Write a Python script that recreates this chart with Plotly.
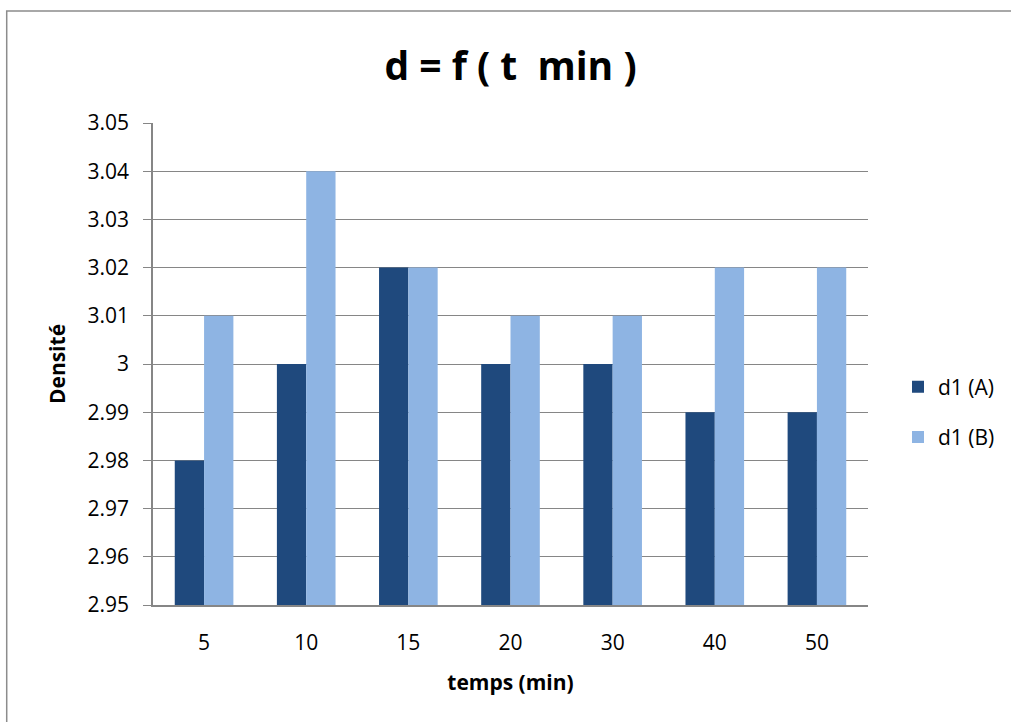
import plotly.graph_objects as go

categories = ["5", "10", "15", "20", "30", "40", "50"]
d1_A = [2.98, 3.00, 3.02, 3.00, 3.00, 2.99, 2.99]
d1_B = [3.01, 3.04, 3.02, 3.01, 3.01, 3.02, 3.02]
y_ticks = [2.95, 2.96, 2.97, 2.98, 2.99, 3.00, 3.01, 3.02, 3.03, 3.04, 3.05]
y_labels = ["2.95", "2.96", "2.97", "2.98", "2.99", "3", "3.01", "3.02", "3.03", "3.04", "3.05"]

FONT = "Open Sans, Carlito, Calibri, sans-serif"

fig = go.Figure()
fig.add_bar(x=categories, y=d1_A, name="d1 (A)", marker_color="#1F497D",
            marker_line_width=0, legendgroup="a")
fig.add_bar(x=categories, y=d1_B, name="d1 (B)", marker_color="#8EB4E3",
            marker_line_width=0, legendgroup="b")

W, H = 1011, 722
ml, mr, mt, mb = 153, 142, 123, 117
pw, ph = W - ml - mr, H - mt - mb

def px(x):
    return (x - ml) / pw

def py(y):
    return (H - mb - y) / ph

fig.update_layout(
    width=W, height=H,
    margin=dict(l=ml, r=mr, t=mt, b=mb),
    paper_bgcolor="white", plot_bgcolor="white",
    barmode="group", bargap=0.426, bargroupgap=0,
    font=dict(family=FONT, size=21, color="#000000"),
    title=dict(text="<b>d = f ( t&nbsp;&nbsp;min )</b>", x=0.5, xanchor="center",
               xref="paper", y=1 - 66 / H, yanchor="middle",
               font=dict(size=39, family=FONT)),
    xaxis=dict(showline=True, linecolor="#868686", linewidth=1.5,
               ticks="", showgrid=False, ticklabelstandoff=18,
               title=dict(text="<b>temps (min)</b>", font=dict(size=21), standoff=20),
               tickfont=dict(size=21)),
    yaxis=dict(range=[2.95, 3.05], tickvals=y_ticks, ticktext=y_labels,
               showline=True, linecolor="#868686", linewidth=1.5,
               ticks="outside", ticklen=8, tickcolor="#868686",
               ticklabelstandoff=10,
               showgrid=True, gridcolor="#868686", gridwidth=1,
               zeroline=False,
               title=dict(text="<b>Densité</b>", font=dict(size=21), standoff=16),
               tickfont=dict(size=21)),
    legend=dict(x=px(898), xanchor="left", y=py(412), yanchor="middle",
                font=dict(size=21), tracegroupgap=20, bgcolor="rgba(0,0,0,0)"),
    showlegend=True,
    shapes=[dict(type="rect", xref="paper", yref="paper",
                 x0=px(6.5), x1=px(1020), y0=py(730), y1=py(11),
                 line=dict(color="#8C8C8C", width=1.5), fillcolor="rgba(0,0,0,0)",
                 layer="below")],
)

fig.write_html("out.html")
